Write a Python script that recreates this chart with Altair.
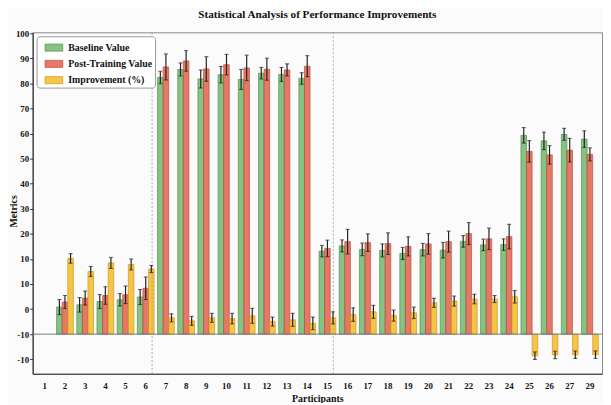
import altair as alt
import pandas as pd

# ---------------- data ----------------
participants = [str(i) for i in range(1, 28)] + ["29"]
series = ["Baseline Value", "Post-Training Value", "Improvement (%)"]

baseline = [None, 10.8, 11.7, 13.0, 13.7, 14.8, 102.4, 105.6, 101.8, 103.5, 101.6, 104.1, 103.6, 102.0,
            33.1, 35.2, 33.8, 33.4, 32.2, 33.7, 33.5, 37.0, 35.6, 35.7, 79.3, 77.1, 79.7, 77.8]
baseline_err = [None, 3.0, 2.9, 2.8, 2.5, 3.0, 2.5, 2.6, 3.6, 3.3, 4.0, 2.3, 2.8, 2.3,
                2.3, 2.4, 2.5, 2.6, 2.4, 2.5, 3.1, 2.3, 2.3, 2.3, 3.1, 3.5, 2.4, 3.3]
post = [None, 12.8, 14.4, 15.4, 15.7, 18.3, 106.6, 109.0, 105.8, 107.5, 106.2, 105.7, 105.4, 106.9,
        34.2, 36.9, 36.5, 36.1, 35.0, 36.0, 36.9, 40.1, 38.0, 38.9, 72.9, 71.5, 73.4, 71.7]
post_err = [None, 2.6, 2.8, 3.5, 3.5, 4.5, 5.2, 4.1, 4.9, 4.1, 5.1, 4.4, 2.4, 4.2,
            3.3, 4.9, 3.5, 4.3, 3.8, 4.1, 4.2, 4.4, 4.3, 4.9, 4.3, 3.7, 4.7, 2.6]
improvement = [None, 30.2, 25.0, 28.4, 27.8, 26.0, 6.5, 5.3, 6.5, 6.2, 7.3, 5.0, 5.7, 4.3,
               6.5, 7.8, 8.9, 7.4, 8.5, 12.5, 13.2, 14.0, 14.0, 14.9, -8.6, -8.3, -8.2, -8.2]
improvement_err = [None, 1.9, 2.0, 2.2, 2.2, 1.4, 1.6, 1.8, 1.8, 2.1, 3.0, 1.8, 2.6, 2.5,
                   2.4, 2.7, 2.6, 2.2, 2.3, 1.8, 2.0, 1.9, 1.4, 2.5, 1.5, 1.5, 1.5, 1.5]

# y-axis ticks and the labels printed beside them
tick_values = [-10, 0, 10, 20, 30, 40, 50, 60, 70, 80, 90, 100, 110, 120]
tick_labels = ["-10", "-10", "0", "10", "10", "20", "30", "40", "50", "60", "70", "80", "90", "100"]

# dashed separators: (participant, position inside its band)
separators = [("6", 0.88), ("15", 0.85)]

colors = ["#80bf7c", "#e8715f", "#f8c23d"]
edges = ["#4f8a4c", "#b3493a", "#c8921c"]

# ---------------- table ----------------
rows = []
for i, p in enumerate(participants):
    for s, vals, errs in zip(series, [baseline, post, improvement],
                             [baseline_err, post_err, improvement_err]):
        if vals[i] is None:
            continue
        rows.append(dict(participant=p, series=s, value=vals[i],
                         lo=vals[i] - errs[i], hi=vals[i] + errs[i]))
df = pd.DataFrame(rows)

FONT = "Liberation Serif"

label_expr = "''"
for v, l in zip(reversed(tick_values), reversed(tick_labels)):
    label_expr = f"datum.value == {v} ? '{l}' : ({label_expr})"

xscale = alt.Scale(domain=participants, paddingInner=0.17, paddingOuter=0.185)
x_axis = alt.Axis(title="Participants", labelAngle=0, ticks=False,
                  labelFont=FONT, labelFontWeight="bold", labelFontSize=9,
                  labelColor="#111", labelPadding=8, labelOverlap=False,
                  titleFont=FONT, titleFontWeight="bold", titleFontSize=10,
                  titleColor="#111", titlePadding=3,
                  domainColor="#333", domainWidth=1.2)
x_enc = alt.X("participant:N", scale=xscale, sort=participants, axis=x_axis)
xoff = alt.XOffset("series:N", sort=series,
                   scale=alt.Scale(domain=series, paddingInner=0, paddingOuter=0))
yscale = alt.Scale(domain=[-15.8, 120.4], nice=False, zero=False)
y_axis = alt.Axis(title="Metrics", values=tick_values, labelExpr=label_expr,
                  labelOverlap=False, grid=False, tickSize=3, tickColor="#333",
                  labelFont=FONT, labelFontWeight="bold", labelFontSize=9,
                  labelColor="#111", labelPadding=1,
                  titleFont=FONT, titleFontWeight="bold", titleFontSize=10,
                  titleColor="#111", titleX=-16, titleY=181,
                  titleBaseline="alphabetic",
                  domainColor="#333", domainWidth=1.2)

base = alt.Chart(df)

bars = base.mark_bar(strokeWidth=0.7, opacity=0.95).encode(
    x=x_enc, xOffset=xoff, y=alt.Y("value:Q", scale=yscale, axis=y_axis), y2=alt.datum(0),
    color=alt.Color("series:N", sort=series,
                    scale=alt.Scale(domain=series, range=colors),
                    legend=alt.Legend(title=None, orient="none", legendX=4, legendY=4,
                                      padding=2, fillColor="white", strokeColor="#999",
                                      cornerRadius=3, labelFont=FONT, labelFontWeight="bold",
                                      labelFontSize=10, labelColor="#111", labelOffset=5,
                                      rowPadding=1.5, symbolOffset=6,
                                      symbolType="M-1,-0.4H1V0.4H-1Z", symbolSize=324,
                                      symbolStrokeWidth=0.7, symbolOpacity=0.95)),
    stroke=alt.Stroke("series:N", sort=series,
                      scale=alt.Scale(domain=series, range=edges), legend=None),
)

zero_line = alt.Chart(pd.DataFrame({"value": [0]})).mark_rule(color="#777", strokeWidth=1).encode(
    y=alt.Y("value:Q", scale=yscale, axis=y_axis))

err_rules = base.mark_rule(color="#222", strokeWidth=1.2).encode(
    x=x_enc, xOffset=xoff, y=alt.Y("lo:Q", scale=yscale, axis=y_axis), y2="hi:Q")
cap_lo = base.mark_tick(orient="horizontal", size=4, thickness=1.1, color="#222").encode(
    x=x_enc, xOffset=xoff, y=alt.Y("lo:Q", scale=yscale, axis=y_axis))
cap_hi = base.mark_tick(orient="horizontal", size=4, thickness=1.1, color="#222").encode(
    x=x_enc, xOffset=xoff, y=alt.Y("hi:Q", scale=yscale, axis=y_axis))

sep_layers = []
for p, bp in separators:
    sep_layers.append(
        alt.Chart(pd.DataFrame({"participant": [p]})).mark_rule(
            color="#999", strokeDash=[2, 2], strokeWidth=0.8).encode(
            x=alt.X("participant:N", scale=xscale, sort=participants, bandPosition=bp,
                    axis=x_axis))
    )

chart = alt.layer(bars, zero_line, *sep_layers, err_rules, cap_lo, cap_hi).properties(
    width=577, height=346,
    title=alt.TitleParams("Statistical Analysis of Performance Improvements", font=FONT,
                          fontSize=11.3, fontWeight="bold", color="#111",
                          anchor="middle", offset=9),
    autosize=alt.AutoSizeParams(type="none"),
    padding={"left": 25, "top": 22, "right": 1, "bottom": 27},
    background="#fbfbfb",
).configure_view(stroke="#888", strokeWidth=1).configure_axisY(labelOverlap=False)

chart.save("out.html", embed_options={"renderer": "svg", "actions": False})
